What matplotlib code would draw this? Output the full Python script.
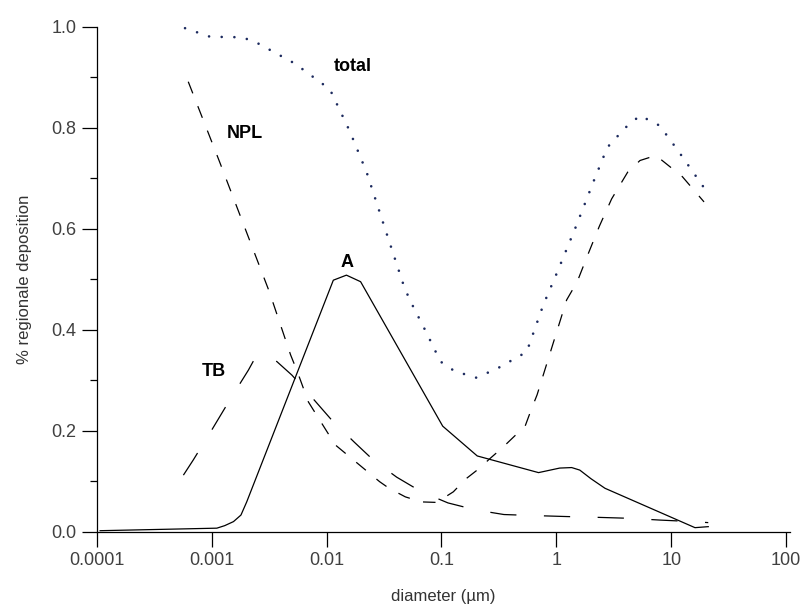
import numpy as np
import matplotlib
matplotlib.use("Agg")
import matplotlib.pyplot as plt
from matplotlib.ticker import FixedLocator, MultipleLocator, NullLocator

plt.rcParams['font.family'] = ['Liberation Sans', 'DejaVu Sans']

# total deposition (dotted)
total_x = [5.87e-4, 9.7e-4, 1.83e-3, 2.39e-3, 5.3e-3, 0.0107, 0.016, 0.0224, 0.0323,
           0.0472, 0.053, 0.0745, 0.098, 0.13, 0.2, 0.3, 0.552, 0.77, 1.01, 1.48,
           2.13, 2.78, 3.99, 5.35, 7.94, 11.5, 19.3]
total_y = [0.997, 0.98, 0.979, 0.97, 0.927, 0.876, 0.792, 0.711, 0.60,
           0.486, 0.459, 0.393, 0.337, 0.318, 0.305, 0.322, 0.356, 0.449, 0.512, 0.604,
           0.696, 0.761, 0.80, 0.824, 0.804, 0.754, 0.681]

# nasopharyngeal (short dashes)
npl_x = [6.26e-4, 1.17e-3, 3.18e-3, 4.87e-3, 5.57e-3, 6.95e-3, 0.0119, 0.029, 0.035,
         0.0485, 0.067, 0.091, 0.127, 0.162, 0.21, 0.265, 0.342, 0.436, 0.533,
         0.61, 0.68, 1.23, 1.52, 1.9, 2.37, 3.03, 4.18, 5.35, 7.35, 12.5, 19.3]
npl_y = [0.891, 0.733, 0.475, 0.35, 0.317, 0.257, 0.172, 0.099, 0.086,
         0.069, 0.059, 0.058, 0.079, 0.104, 0.124, 0.145, 0.167, 0.19, 0.208,
         0.244, 0.271, 0.459, 0.495, 0.551, 0.605, 0.659, 0.712, 0.735, 0.745, 0.703, 0.653]

# tracheobronchial (long dashes)
tb_x = [5.68e-4, 6.92e-4, 1.0e-3, 1.44e-3, 2.09e-3, 2.47e-3, 3.0e-3, 3.69e-3, 5.0e-3,
        6.95e-3, 0.0111, 0.0175, 0.0255, 0.0408, 0.067, 0.114, 0.2, 0.35, 0.63,
        1.23, 2.24, 4.38, 8.0, 15.3, 21.0]
tb_y = [0.112, 0.142, 0.201, 0.261, 0.32, 0.35, 0.345, 0.337, 0.31,
        0.274, 0.221, 0.177, 0.142, 0.108, 0.079, 0.057, 0.043, 0.034, 0.032,
        0.030, 0.0285, 0.0265, 0.023, 0.020, 0.018]

# alveolar (solid)
a_x = [1.07e-4, 1.11e-3, 1.3e-3, 1.55e-3, 1.8e-3, 2.02e-3, 0.01146, 0.0149, 0.0198,
       0.1026, 0.205, 0.70, 1.07, 1.36, 1.6, 2.0, 2.65, 16.1, 21.0]
a_y = [0.002, 0.007, 0.012, 0.02, 0.033, 0.059, 0.498, 0.508, 0.495,
       0.209, 0.15, 0.117, 0.126, 0.127, 0.122, 0.105, 0.086, 0.008, 0.010]

x_ticks = [1e-4, 1e-3, 1e-2, 1e-1, 1, 10, 100]
x_labels = ["0.0001", "0.001", "0.01", "0.1", "1", "10", "100"]
y_ticks = [0.0, 0.2, 0.4, 0.6, 0.8, 1.0]

fig = plt.figure(figsize=(8.02, 6.06), dpi=100)
ax = fig.add_axes([0.1206, 0.1226, 0.985 - 0.1206, 0.956 - 0.1226])

ax.plot(total_x, total_y, color='#1c2a5e', lw=1.9, linestyle=(0, (0.01, 4.8)),
        dash_capstyle='round', clip_on=False)
ax.plot(npl_x, npl_y, color='black', lw=0.9, linestyle=(0, (10, 11)), clip_on=False)
ax.plot(tb_x, tb_y, color='black', lw=0.9, linestyle=(0, (21, 22)), clip_on=False)
ax.plot(a_x, a_y, color='black', lw=0.9, clip_on=False)

ax.set_xscale('log')
ax.set_xlim(1e-4, 108)
ax.set_ylim(0, 1.0)

ax.xaxis.set_major_locator(FixedLocator(x_ticks))
ax.set_xticklabels(x_labels)
ax.xaxis.set_minor_locator(NullLocator())
ax.set_yticks(y_ticks)
ax.set_yticklabels([f"{v:.1f}" for v in y_ticks])
ax.yaxis.set_minor_locator(MultipleLocator(0.1))

for s in ['top', 'right']:
    ax.spines[s].set_visible(False)
for s in ['left', 'bottom']:
    ax.spines[s].set_linewidth(0.9)

ax.tick_params(axis='both', which='major', direction='out', length=10.8, width=0.9,
               labelsize=13, labelcolor='#404040', pad=4)
ax.tick_params(axis='y', which='minor', direction='out', length=5, width=0.9)

ax.set_xlabel('diameter (µm)', fontsize=12, color='#333333', labelpad=14)
ax.set_ylabel('% regionale deposition', fontsize=12, color='#333333', labelpad=14)

lab = dict(fontsize=13, fontweight='bold', ha='center', va='center', color='black')
ax.text(0.017, 0.921, 'total', **lab)
ax.text(1.95e-3, 0.789, 'NPL', **lab)
ax.text(0.015, 0.533, 'A', **lab)
ax.text(1.035e-3, 0.317, 'TB', **lab)

fig.savefig('out.png', dpi=100)
